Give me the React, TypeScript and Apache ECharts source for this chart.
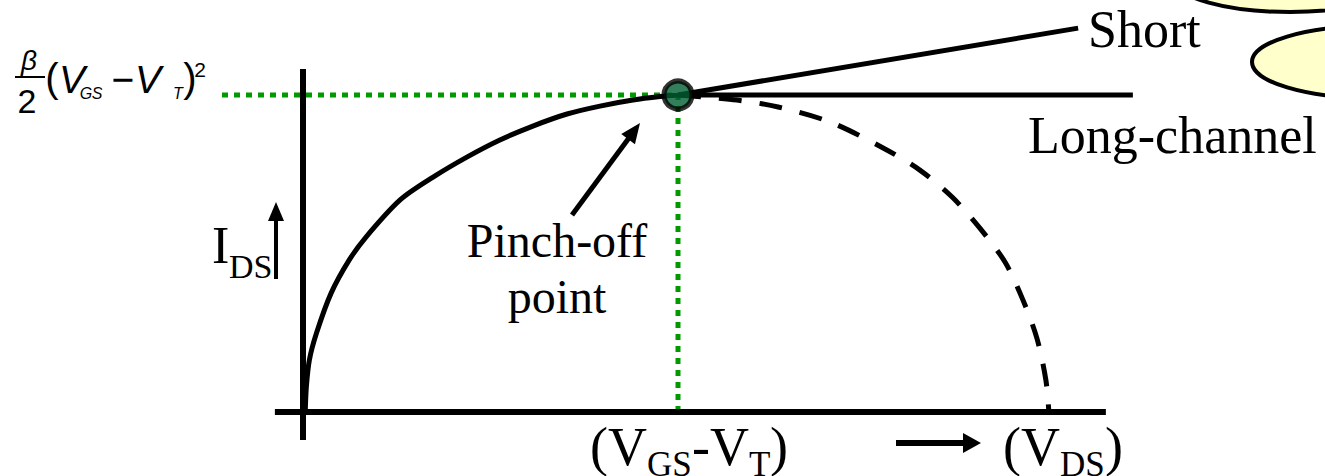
import React, { useEffect, useRef } from "react";
import * as echarts from "echarts";

// Normalized units: x = V_DS / (V_GS - V_T), y = I_DS / I_DS(pinch-off)
const linearX = [0.006, 0.009, 0.017, 0.036, 0.075, 0.123, 0.168, 0.259, 0.347, 0.437, 0.525, 0.613, 0.704, 0.792, 0.88, 0.952, 1.0];
const linearY = [0, 0.08, 0.164, 0.249, 0.375, 0.479, 0.552, 0.669, 0.741, 0.804, 0.858, 0.902, 0.94, 0.965, 0.984, 0.995, 1.0];
const saturX = [1.0, 1.157, 1.267, 1.405, 1.547, 1.645, 1.731, 1.805, 1.872, 1.92, 1.957, 1.981, 1.989];
const saturY = [1.0, 0.984, 0.962, 0.915, 0.833, 0.763, 0.678, 0.58, 0.473, 0.353, 0.233, 0.101, 0];
const longX = [1.0, 2.213];
const longY = [1.0, 1.0];
const shortX = [1.0, 2.067];
const shortY = [1.0, 1.211];
const pinchX = [1.0];
const pinchY = [1.0];
const axisHX = [-0.075, 2.141];
const axisVY = [-0.088, 1.082];
const guideHX = [-0.216, 1.0];
const guideVY = [0, 1.0];

const zip = (xs: number[], ys: number[]) => xs.map((x, i) => [x, ys[i]]);

const SERIF = '"Liberation Serif", "Times New Roman", serif';
const SANS = '"Liberation Sans", Arial, sans-serif';

// pixel frame: origin (0,0) at x=303px, y=412px; pinch-off (1,1) at 678px, 95px
const X0 = 303, XS = 375, Y0 = 412, YS = 317, W = 1325, H = 476;

function txt(text: string, x: number, baseline: number, size: number, opts: any = {}) {
  const family = opts.family || SERIF;
  const k = family === SANS ? 0.3465 : 0.3375;
  return {
    type: "text",
    x,
    y: baseline - k * size,
    z: 20,
    silent: true,
    style: {
      text,
      fontSize: size,
      fontFamily: family,
      fontStyle: opts.italic ? "italic" : "normal",
      fill: "#000",
      align: opts.align || "left",
      textAlign: opts.align || "left",
      verticalAlign: "middle",
      textVerticalAlign: "middle",
    },
  };
}

function arrow(x1: number, y1: number, x2: number, y2: number, headLen: number, headW: number, lw: number) {
  const dx = x2 - x1;
  const dy = y2 - y1;
  const L = Math.hypot(dx, dy);
  const ux = dx / L;
  const uy = dy / L;
  const bx = x2 - ux * headLen;
  const by = y2 - uy * headLen;
  const px = -uy;
  const py = ux;
  return [
    {
      type: "line",
      z: 15,
      silent: true,
      shape: { x1, y1, x2: bx + ux * 2, y2: by + uy * 2 },
      style: { stroke: "#000", lineWidth: lw },
    },
    {
      type: "polygon",
      z: 15,
      silent: true,
      shape: {
        points: [
          [x2, y2],
          [bx + (px * headW) / 2, by + (py * headW) / 2],
          [bx - (px * headW) / 2, by - (py * headW) / 2],
        ],
      },
      style: { fill: "#000" },
    },
  ];
}

export default function App() {
  const ref = useRef<HTMLDivElement>(null);
  useEffect(() => {
    document.body.style.margin = "0";
    const chart = echarts.init(ref.current!, null, { renderer: "svg" });
    const black = "#000";
    const green = "#009a00";
    const lineBase = { type: "line", symbol: "none", clip: false, silent: true };
    chart.setOption({
      animation: false,
      backgroundColor: "#fff",
      grid: { left: 0, top: 0, width: W, height: H },
      xAxis: { type: "value", min: -X0 / XS, max: (W - X0) / XS, show: false },
      yAxis: { type: "value", min: (Y0 - H) / YS, max: Y0 / YS, show: false },
      series: [
        { ...lineBase, name: "guideH", z: 1, data: zip(guideHX, [1, 1]), lineStyle: { color: green, width: 5, type: [6, 6] } },
        { ...lineBase, name: "guideV", z: 1, data: zip([1, 1], guideVY), lineStyle: { color: green, width: 5, type: [6, 6] } },
        { ...lineBase, name: "axisH", z: 2, data: zip(axisHX, [0, 0]), lineStyle: { color: black, width: 6 } },
        { ...lineBase, name: "axisV", z: 2, data: zip([0, 0], axisVY), lineStyle: { color: black, width: 6 } },
        { ...lineBase, name: "linear", z: 3, smooth: 0.3, data: zip(linearX, linearY), lineStyle: { color: black, width: 5 } },
        { ...lineBase, name: "saturation", z: 3, smooth: 0.3, data: zip(saturX, saturY), lineStyle: { color: black, width: 5, type: [23, 18] } },
        { ...lineBase, name: "long", z: 3, data: zip(longX, longY), lineStyle: { color: black, width: 5 } },
        { ...lineBase, name: "short", z: 3, data: zip(shortX, shortY), lineStyle: { color: black, width: 5 } },
        {
          type: "scatter",
          name: "pinch",
          z: 5,
          clip: false,
          silent: true,
          symbol: "circle",
          symbolSize: 28,
          data: zip(pinchX, pinchY),
          itemStyle: { color: "#005f32", borderColor: black, borderWidth: 5 },
        },
      ],
      graphic: [
        // ellipses at top right
        { type: "ellipse", z: 10, silent: true, shape: { cx: 1290, cy: -20, rx: 115, ry: 32 }, style: { fill: "#ffffcc", stroke: black, lineWidth: 4 } },
        { type: "ellipse", z: 10, silent: true, shape: { cx: 1372, cy: 62, rx: 120, ry: 36 }, style: { fill: "#ffffcc", stroke: black, lineWidth: 4 } },
        // labels
        txt("Short", 1088, 47, 52),
        txt("Long-channel", 1028, 153, 52),
        txt("Pinch-off", 557, 257, 48, { align: "center" }),
        txt("point", 557, 313, 48, { align: "center" }),
        txt("I", 212, 263, 52),
        txt("DS", 229, 278, 34),
        txt("(V", 590, 465, 54),
        txt("GS", 647, 476, 35),
        txt("-V", 692, 465, 54),
        txt("T", 749, 476, 35),
        txt(")", 770, 465, 54),
        txt("(V", 1003, 465, 54),
        txt("DS", 1060, 476, 35),
        txt(")", 1105, 465, 54),
        // formula at top-left
        txt("\u03b2", 29, 70, 28, { family: SANS, italic: true, align: "center" }),
        { type: "line", z: 20, silent: true, shape: { x1: 15, y1: 77, x2: 45, y2: 77 }, style: { stroke: black, lineWidth: 2 } },
        txt("2", 27, 113, 34, { family: SANS, align: "center" }),
        txt("(", 52, 92, 40, { family: SANS, align: "center" }),
        txt("V", 72, 93, 39, { family: SANS, italic: true, align: "center" }),
        txt("G", 86, 99, 16, { family: SANS, italic: true, align: "center" }),
        txt("S", 97, 99, 16, { family: SANS, italic: true, align: "center" }),
        txt("\u2212", 123, 93, 39, { family: SANS, align: "center" }),
        txt("V", 148, 93, 39, { family: SANS, italic: true, align: "center" }),
        txt("T", 178, 99, 16, { family: SANS, italic: true, align: "center" }),
        txt(")", 190, 92, 40, { family: SANS, align: "center" }),
        txt("2", 200, 77, 21, { family: SANS, align: "center" }),
        // arrows
        ...arrow(572, 215, 640, 123, 20, 17, 5),
        ...arrow(276, 279, 276, 202, 19, 16, 4),
        ...arrow(896, 443, 981, 443, 18, 20, 6),
      ],
    });
    return () => chart.dispose();
  }, []);
  return <div ref={ref} style={{ width: W, height: H, background: "#fff" }} />;
}
